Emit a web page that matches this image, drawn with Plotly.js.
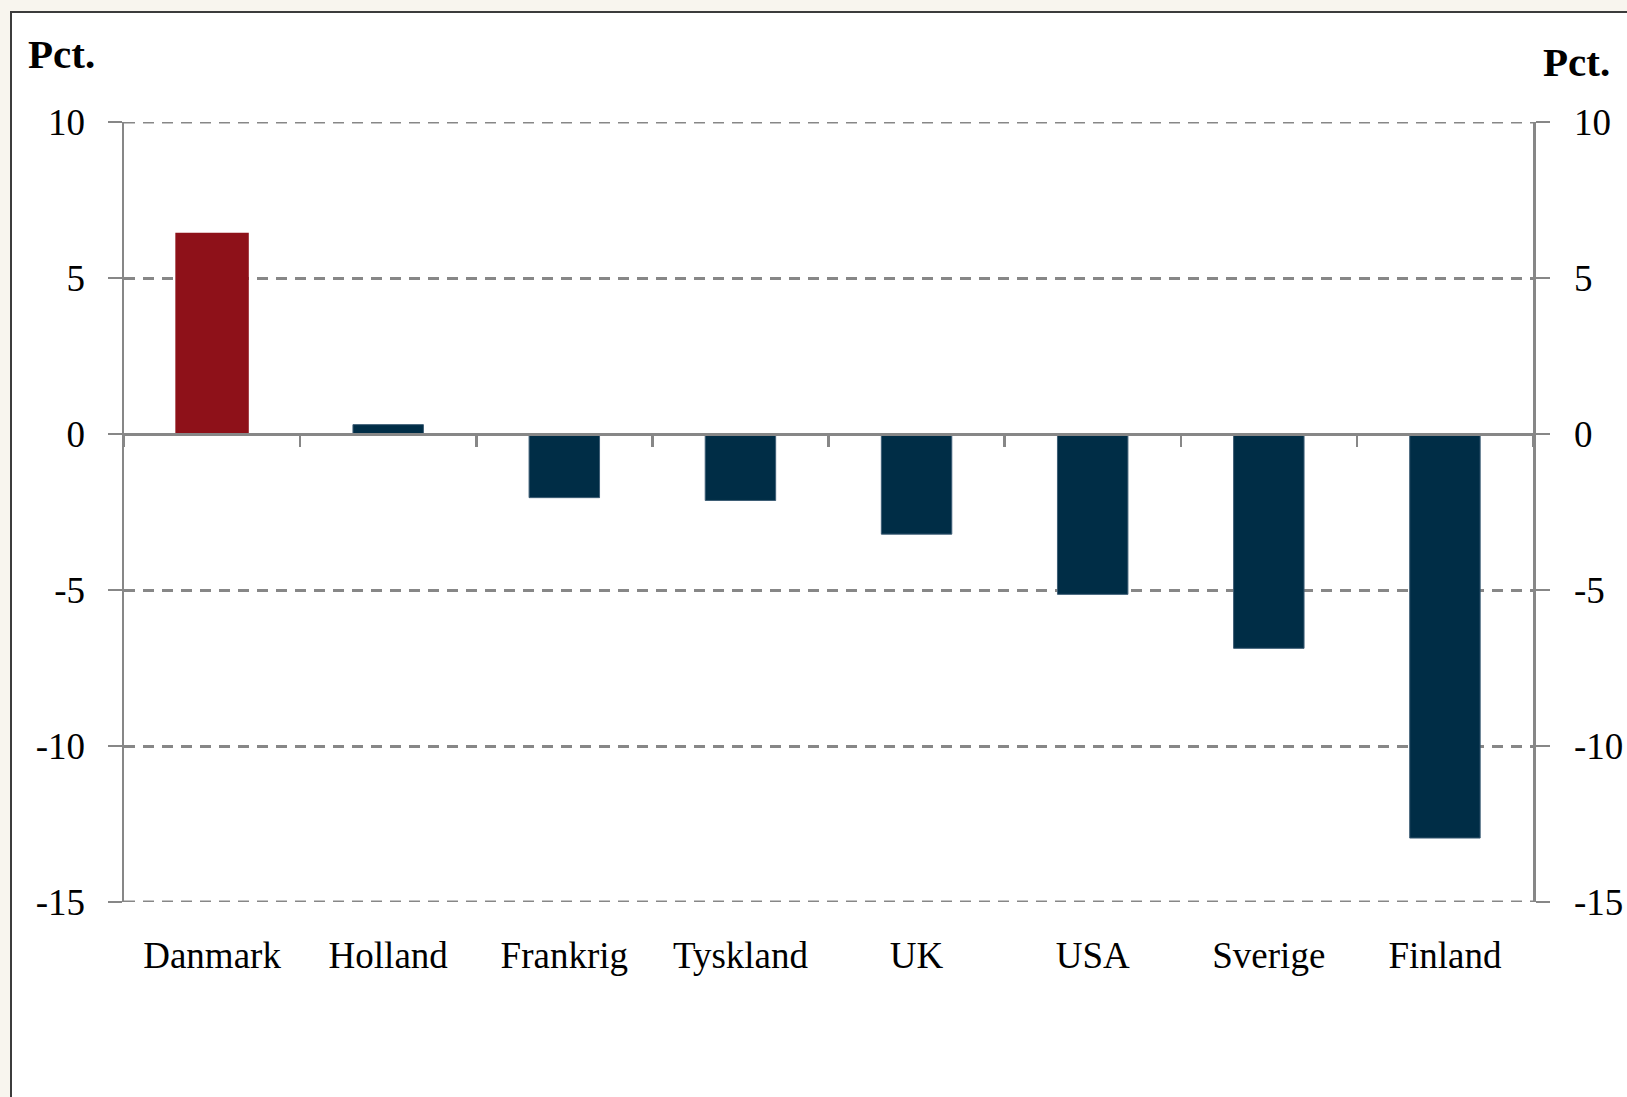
<!DOCTYPE html>
<html>
<head>
<meta charset="utf-8">
<script src="https://cdn.plot.ly/plotly-3.0.1.min.js"></script>
<style>
  html, body { margin: 0; padding: 0; background: #f8f5ee; width: 1627px; height: 1097px; overflow: hidden; }
  #chart { position: absolute; left: 10px; top: 11px; width: 1615px; height: 1086px;
           background: #ffffff; border-top: 2px solid #3c3c3c; border-left: 2px solid #3c3c3c; }
</style>
</head>
<body>
<div id="chart"></div>
<script>
const categories = ['Danmark', 'Holland', 'Frankrig', 'Tyskland', 'UK', 'USA', 'Sverige', 'Finland'];
const values = [6.4, 0.3, -2.04, -2.13, -3.21, -5.14, -6.87, -12.95];
const barColors = ['#8e1119', '#002d46', '#002d46', '#002d46', '#002d46', '#002d46', '#002d46', '#002d46'];
const yTickVals = [-15, -10, -5, 0, 5, 10];
const yTickText = ['-15', '-10', '-5', '0', '5', '10'];
const yMin = -15, yMax = 10;
const unitLabel = 'Pct.';

const FONT = '"Liberation Serif", "Times New Roman", serif';
const GRAY = '#878787';
const DASH = '11px,8px';

const yRange = [yMin, yMax];
const zeroPos = (0 - yRange[0]) / (yRange[1] - yRange[0]);

const traces = [
  {
    type: 'bar',
    x: categories,
    y: values,
    width: 0.4,
    marker: {
      color: barColors,
      line: { color: barColors.map((c, i) => i === 0 ? c : '#3d5d75'), width: barColors.map((c, i) => i === 0 ? 3 : 1) }
    },
    hoverinfo: 'x+y',
    showlegend: false,
    xaxis: 'x', yaxis: 'y'
  },
  {
    type: 'scatter',
    mode: 'markers',
    x: categories,
    y: values,
    marker: { opacity: 0 },
    hoverinfo: 'skip',
    showlegend: false,
    xaxis: 'x2', yaxis: 'y2'
  }
];

const commonY = {
  range: yRange,
  tickmode: 'array',
  tickvals: yTickVals,
  ticktext: yTickText,
  ticks: 'outside',
  ticklen: 14,
  tickwidth: 2.5,
  tickcolor: GRAY,
  showline: true,
  linecolor: GRAY,
  linewidth: 2.5,
  zeroline: false,
  tickfont: { family: FONT, size: 37, color: '#000' },
  fixedrange: true
};

// grid lines at the two range ends (Plotly clips grid lines sitting exactly on the plot edge)
const edgeGrid = [yMin, yMax].map(v => ({
  type: 'line', layer: 'below',
  xref: 'paper', x0: 0, x1: 1,
  yref: 'y', y0: v, y1: v,
  line: { color: GRAY, width: 3, dash: DASH }
}));

const layout = {
  width: 1615,
  height: 1084,
  margin: { l: 112, r: 94, t: 109, b: 195 },
  paper_bgcolor: '#ffffff',
  plot_bgcolor: '#ffffff',
  font: { family: FONT, color: '#000' },
  showlegend: false,
  xaxis: {
    type: 'category',
    range: [-0.5, categories.length - 0.5],
    showline: false,
    ticks: '',
    showgrid: false,
    zeroline: false,
    tickfont: { family: FONT, size: 37, color: '#000' },
    ticklabelstandoff: 28,
    fixedrange: true
  },
  xaxis2: {
    type: 'category',
    overlaying: 'x',
    anchor: 'free',
    position: zeroPos,
    range: [-0.5, categories.length - 0.5],
    showline: true,
    linecolor: GRAY,
    linewidth: 3,
    ticks: 'outside',
    tickson: 'boundaries',
    ticklen: 11,
    tickwidth: 2.5,
    tickcolor: GRAY,
    showticklabels: false,
    showgrid: false,
    zeroline: false,
    fixedrange: true
  },
  yaxis: Object.assign({}, commonY, {
    side: 'left',
    showgrid: true,
    gridcolor: GRAY,
    gridwidth: 3,
    griddash: DASH,
    ticklabelstandoff: 15
  }),
  yaxis2: Object.assign({}, commonY, {
    side: 'right',
    overlaying: 'y',
    anchor: 'x',
    showgrid: false,
    ticklabelstandoff: 17
  }),
  shapes: edgeGrid,
  annotations: [
    {
      text: '<b>' + unitLabel + '</b>',
      xref: 'paper', yref: 'paper',
      x: -0.0695, y: 1.0875,
      xanchor: 'left', yanchor: 'middle',
      showarrow: false,
      font: { family: FONT, size: 41, color: '#000' }
    },
    {
      text: '<b>' + unitLabel + '</b>',
      xref: 'paper', yref: 'paper',
      x: 1.0055, y: 1.0765,
      xanchor: 'left', yanchor: 'middle',
      showarrow: false,
      font: { family: FONT, size: 41, color: '#000' }
    }
  ]
};

Plotly.newPlot('chart', traces, layout, { displayModeBar: false, staticPlot: true });
</script>
</body>
</html>
